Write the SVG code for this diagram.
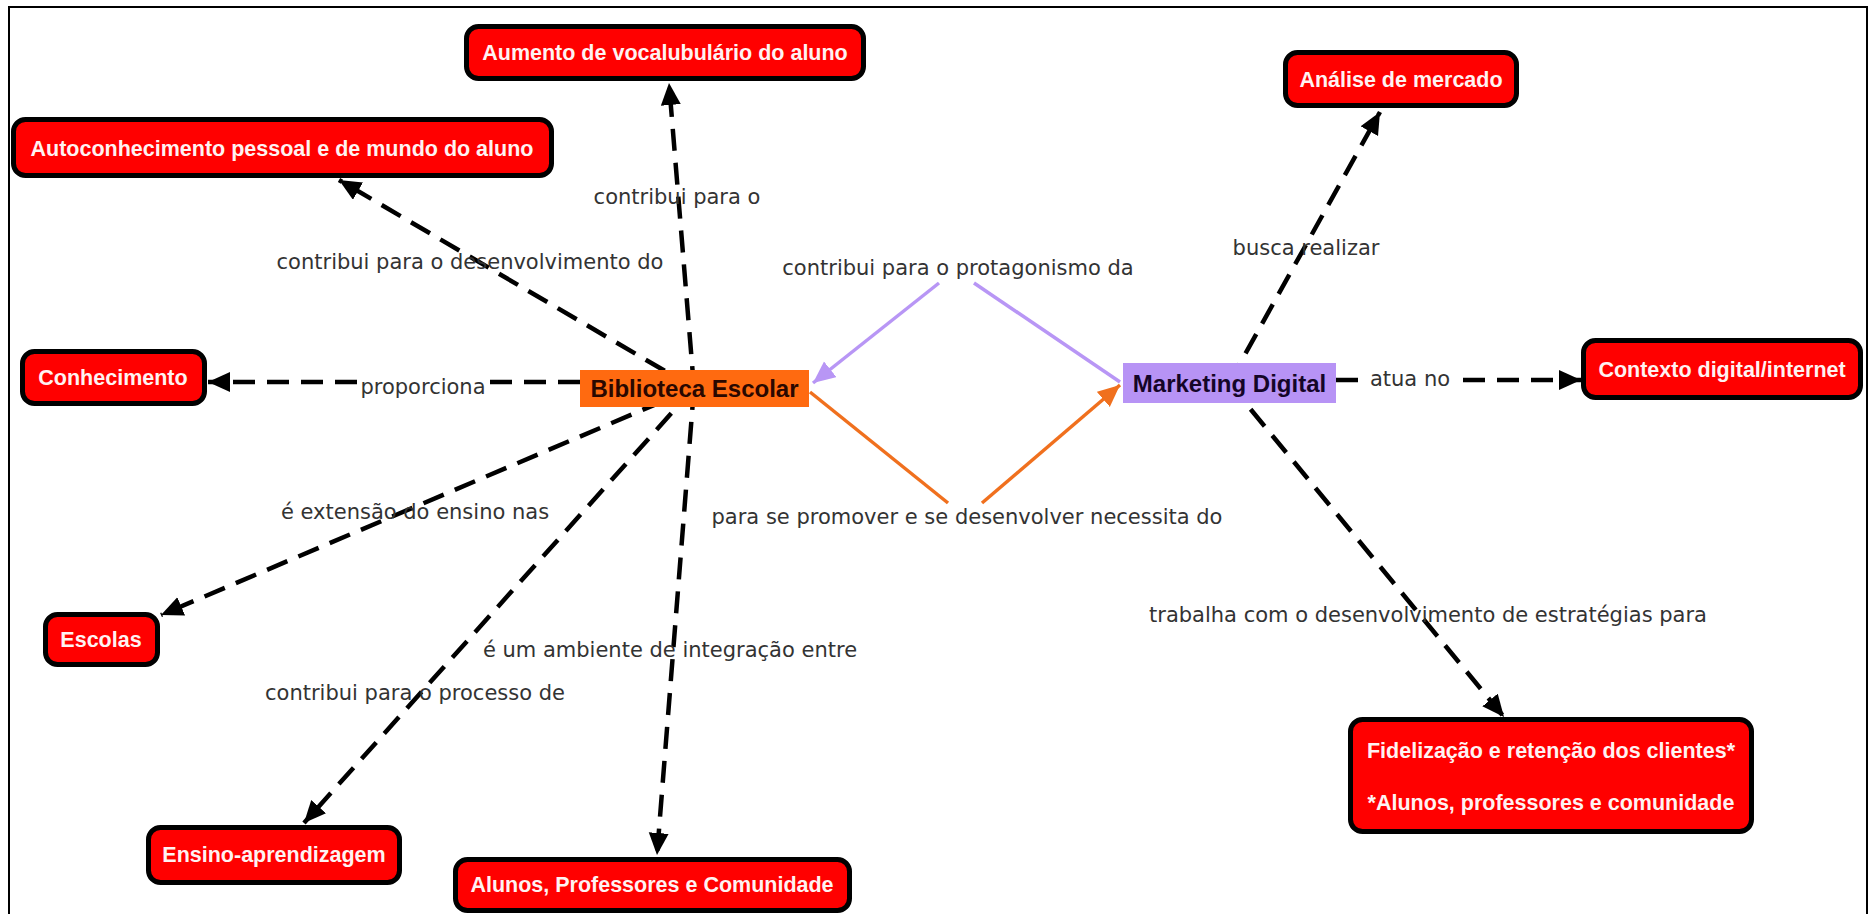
<svg xmlns="http://www.w3.org/2000/svg" width="1871" height="914" viewBox="0 0 1871 914">
<style>
.bg{fill:#ffffff}
.frame{fill:none;stroke:#000;stroke-width:2}
.dash{fill:none;stroke:#000;stroke-width:4.5;stroke-dasharray:22 12}
.purp{fill:none;stroke:#b896f5;stroke-width:3.5}
.orng{fill:none;stroke:#f0701e;stroke-width:3.5}
.lbl{font-family:"DejaVu Sans",Verdana,sans-serif;font-size:21px;fill:#333333;text-anchor:middle}
.red rect{fill:#ff0000;stroke:#000;stroke-width:5}
.red text{font-family:"Liberation Sans",Arial,sans-serif;font-weight:bold;font-size:21.5px;fill:#fff2f2;text-anchor:middle}
.main text{font-family:"Liberation Sans",Arial,sans-serif;font-weight:bold;font-size:24px;text-anchor:middle}
</style>
<defs>
<marker id="ab" markerUnits="userSpaceOnUse" markerWidth="24" markerHeight="22" refX="22" refY="10" orient="auto"><path d="M0,0 L22,10 L0,20 z" fill="#000"/></marker>
<marker id="ap" markerUnits="userSpaceOnUse" markerWidth="24" markerHeight="22" refX="22" refY="10" orient="auto"><path d="M0,0 L22,10 L0,20 z" fill="#b896f5"/></marker>
<marker id="ao" markerUnits="userSpaceOnUse" markerWidth="24" markerHeight="22" refX="22" refY="10" orient="auto"><path d="M0,0 L22,10 L0,20 z" fill="#f0701e"/></marker>
</defs>
<rect class="bg" x="0" y="0" width="1871" height="914"/>
<rect class="frame" x="9" y="7" width="1858" height="930"/>

<g id="connectors">
<path class="dash" d="M694,388 L669,83" marker-end="url(#ab)"/>
<path class="dash" d="M694,388 L339,180" marker-end="url(#ab)"/>
<path class="dash" d="M580,382 L490,382"/>
<path class="dash" d="M357,382 L208,382" marker-end="url(#ab)"/>
<path class="dash" d="M694,388 L161,615" marker-end="url(#ab)"/>
<path class="dash" d="M694,388 L304,823" marker-end="url(#ab)"/>
<path class="dash" d="M694,388 L657,855" marker-end="url(#ab)"/>
<path class="dash" d="M1229,383 L1380,112" marker-end="url(#ab)"/>
<path class="dash" d="M1336,380 L1360,380"/>
<path class="dash" d="M1463,380 L1581,380" marker-end="url(#ab)"/>
<path class="dash" d="M1229,383 L1504,717" marker-end="url(#ab)"/>
<path class="purp" d="M1120,382 L974,283"/>
<path class="purp" d="M939,283 L813,383" marker-end="url(#ap)"/>
<path class="orng" d="M810,392 L948,503"/>
<path class="orng" d="M982,503 L1120,385" marker-end="url(#ao)"/>
<text class="lbl" x="470" y="269">contribui para o desenvolvimento do</text>
<text class="lbl" x="677" y="204">contribui para o</text>
<text class="lbl" x="423" y="394">proporciona</text>
<text class="lbl" x="415" y="519">é extensão do ensino nas</text>
<text class="lbl" x="670" y="657">é um ambiente de integração entre</text>
<text class="lbl" x="415" y="700">contribui para o processo de</text>
<text class="lbl" x="967" y="524">para se promover e se desenvolver necessita do</text>
<text class="lbl" x="958" y="275">contribui para o protagonismo da</text>
<text class="lbl" x="1306" y="255">busca realizar</text>
<text class="lbl" x="1410" y="386">atua no</text>
<text class="lbl" x="1428" y="622">trabalha com o desenvolvimento de estratégias para</text>
</g>

<g id="biblioteca" class="main">
<rect x="580" y="370" width="229" height="37" fill="#ff6a10"/>
<text x="694.5" y="397" fill="#2a0800">Biblioteca Escolar</text>
</g>
<g id="marketing" class="main">
<rect x="1123" y="363" width="213" height="40" fill="#b793f5"/>
<text x="1229.5" y="392" fill="#150528">Marketing Digital</text>
</g>
<g id="aumento" class="red">
<rect x="466.5" y="26.5" width="397" height="52" rx="12"/>
<text x="665" y="60">Aumento de vocalubulário do aluno</text>
</g>
<g id="autoconhecimento" class="red">
<rect x="13.5" y="119.5" width="538" height="56" rx="12"/>
<text x="282" y="156">Autoconhecimento pessoal e de mundo do aluno</text>
</g>
<g id="conhecimento" class="red">
<rect x="22.5" y="351.5" width="182" height="52" rx="12"/>
<text x="113" y="385">Conhecimento</text>
</g>
<g id="escolas" class="red">
<rect x="45.5" y="614.5" width="112" height="50" rx="12"/>
<text x="101" y="647">Escolas</text>
</g>
<g id="ensino" class="red">
<rect x="148.5" y="827.5" width="251" height="55" rx="12"/>
<text x="274" y="862">Ensino-aprendizagem</text>
</g>
<g id="alunos" class="red">
<rect x="455.5" y="859.5" width="394" height="51" rx="12"/>
<text x="652" y="892">Alunos, Professores e Comunidade</text>
</g>
<g id="analise" class="red">
<rect x="1285.5" y="52.5" width="231" height="53" rx="12"/>
<text x="1401" y="87">Análise de mercado</text>
</g>
<g id="contexto" class="red">
<rect x="1583.5" y="340.5" width="277" height="57" rx="12"/>
<text x="1722" y="377">Contexto digital/internet</text>
</g>
<g id="fidelizacao" class="red">
<rect x="1350.5" y="719.5" width="401" height="112" rx="12"/>
<text x="1551" y="758">Fidelização e retenção dos clientes*</text>
<text x="1551" y="810">*Alunos, professores e comunidade</text>
</g>
</svg>
